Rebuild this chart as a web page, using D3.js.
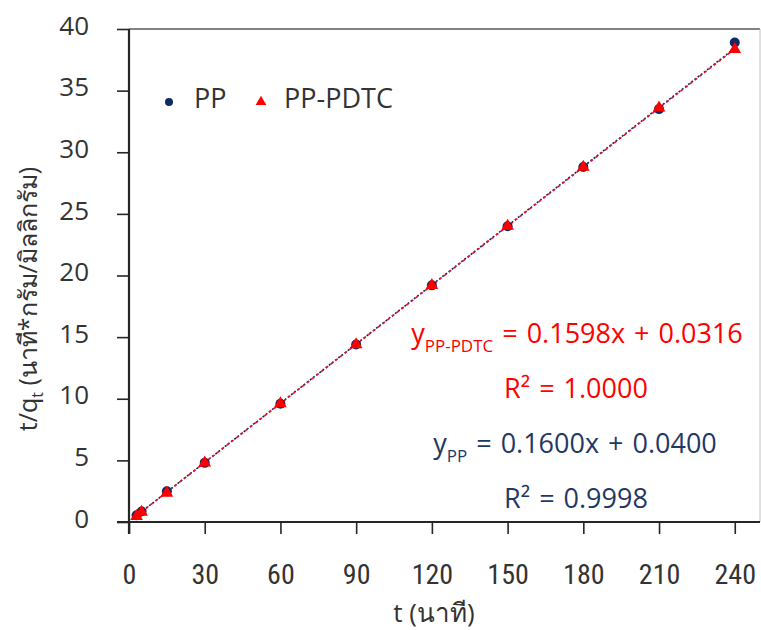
<!DOCTYPE html>
<html>
<head>
<meta charset="utf-8">
<script src="https://cdn.jsdelivr.net/npm/d3@7"></script>
<style>
  body { margin: 0; background: #fff; }
  svg text { font-family: "Open Sans", "Noto Sans", sans-serif; }
</style>
</head>
<body>
<svg id="chart" width="761" height="630"></svg>
<script>
// data
const times = [3, 5, 15, 30, 60, 90, 120, 150, 180, 210, 240];
const ppValues = [0.55, 0.85, 2.5, 4.8, 9.6, 14.4, 19.2, 24.0, 28.8, 33.5, 38.9];
const pdtcValues = [0.45, 0.8, 2.35, 4.8, 9.6, 14.4, 19.2, 24.0, 28.8, 33.6, 38.35];
const xTicks = [0, 30, 60, 90, 120, 150, 180, 210, 240];
const yTicks = [0, 5, 10, 15, 20, 25, 30, 35, 40];
const ppFit = { slope: 0.1600, icpt: 0.0400 };
const pdtcFit = { slope: 0.1598, icpt: 0.0316 };

const navy = '#0f2a62';
const red = '#ff0000';
const ink = '#333333';
const sp = '\u2004';
const svg = d3.select('#chart');

const x = d3.scaleLinear().domain([0, 250]).range([129, 760]);
const y = d3.scaleLinear().domain([0, 40]).range([522, 29]);

// frame (top and right)
svg.append('line').attr('x1', 129).attr('x2', 760).attr('y1', 29).attr('y2', 29)
  .attr('stroke', '#595959').attr('stroke-width', 1.3);
svg.append('line').attr('x1', 760).attr('x2', 760).attr('y1', 29).attr('y2', 522)
  .attr('stroke', '#bfbfbf').attr('stroke-width', 1);

// axes
const yAxis = svg.append('g').attr('transform', 'translate(129,0)')
  .call(d3.axisLeft(y).tickValues(yTicks).tickSize(12).tickPadding(28));
const xAxis = svg.append('g').attr('transform', 'translate(0,522)')
  .call(d3.axisBottom(x).tickValues(xTicks).tickSize(12).tickPadding(30));
[yAxis, xAxis].forEach(function (g) {
  g.select('.domain').attr('stroke', '#262626').attr('stroke-width', 2.2);
  g.selectAll('.tick line').attr('stroke', '#262626').attr('stroke-width', 1.6);
  g.selectAll('.tick text').attr('fill', ink);
});
yAxis.select('.domain').attr('d', 'M0,29V534');
xAxis.select('.domain').attr('d', 'M117,0H760');
yAxis.selectAll('.tick text').style('font-size', '26px').attr('dy', '0.2em');
xAxis.selectAll('.tick text')
  .style('font-family', '"Liberation Sans Narrow", "Roboto Condensed", sans-serif')
  .style('font-size', '28px')
  .style('font-stretch', 'condensed');

// trend lines
const fitLine = function (fit) {
  return d3.line().x(function (d) { return x(d); })
    .y(function (d) { return y(fit.slope * d + fit.icpt); });
};
svg.append('path').datum([3, 240]).attr('d', fitLine(ppFit))
  .attr('stroke', navy).attr('stroke-width', 1.6).attr('fill', 'none')
  .attr('stroke-dasharray', '2,2');
svg.append('path').datum([3, 240]).attr('d', fitLine(pdtcFit))
  .attr('stroke', '#e8112d').attr('stroke-width', 1.6).attr('fill', 'none')
  .attr('stroke-dasharray', '3,3');

// points
svg.selectAll('.pp').data(times).enter().append('circle')
  .attr('class', 'pp')
  .attr('cx', function (d) { return x(d); })
  .attr('cy', function (d, i) { return y(ppValues[i]); })
  .attr('r', 5).attr('fill', navy);
const tri = d3.symbol().type(d3.symbolTriangle).size(70);
svg.selectAll('.pdtc').data(times).enter().append('path')
  .attr('class', 'pdtc')
  .attr('d', tri)
  .attr('transform', function (d, i) { return 'translate(' + x(d) + ',' + y(pdtcValues[i]) + ')'; })
  .attr('fill', red);

// legend
svg.append('circle').attr('cx', 169).attr('cy', 102).attr('r', 4).attr('fill', navy);
svg.append('text').attr('x', 194).attr('y', 108).text('PP')
  .style('font-size', '27px').attr('fill', ink);
svg.append('path').attr('d', d3.symbol().type(d3.symbolTriangle).size(50))
  .attr('transform', 'translate(261,102)').attr('fill', red);
svg.append('text').attr('x', 284).attr('y', 108).text('PP-PDTC')
  .style('font-size', '27px').attr('fill', ink);

// equations
const eq1 = svg.append('text').attr('x', 577).attr('y', 343).attr('text-anchor', 'middle')
  .attr('fill', red).style('font-size', '27px');
eq1.append('tspan').text('y');
eq1.append('tspan').attr('dy', 9).style('font-size', '17px').text('PP-PDTC');
eq1.append('tspan').attr('dy', -9).text(sp + '=' + sp + '0.1598x' + sp + '+' + sp + '0.0316');
svg.append('text').attr('x', 576).attr('y', 398).attr('text-anchor', 'middle')
  .attr('fill', red).style('font-size', '27px').text('R²' + sp + '=' + sp + '1.0000');
const eq2 = svg.append('text').attr('x', 575).attr('y', 453).attr('text-anchor', 'middle')
  .attr('fill', '#1f3864').style('font-size', '27px');
eq2.append('tspan').text('y');
eq2.append('tspan').attr('dy', 9).style('font-size', '17px').text('PP');
eq2.append('tspan').attr('dy', -9).text(sp + '=' + sp + '0.1600x' + sp + '+' + sp + '0.0400');
svg.append('text').attr('x', 576).attr('y', 508).attr('text-anchor', 'middle')
  .attr('fill', '#1f3864').style('font-size', '27px').text('R²' + sp + '=' + sp + '0.9998');

// axis titles
svg.append('text').attr('x', 434).attr('y', 622).attr('text-anchor', 'middle')
  .attr('fill', ink).style('font-size', '26px').text('t (นาที)');
const yt = svg.append('text').attr('transform', 'translate(37,299) rotate(-90)')
  .attr('text-anchor', 'middle').attr('fill', ink).style('font-size', '25px');
yt.append('tspan').text('t/q');
yt.append('tspan').attr('dy', 6).style('font-size', '16px').text('t');
yt.append('tspan').attr('dy', -6).text(' (นาที*กรัม/มิลลิกรัม)');
</script>
</body>
</html>
